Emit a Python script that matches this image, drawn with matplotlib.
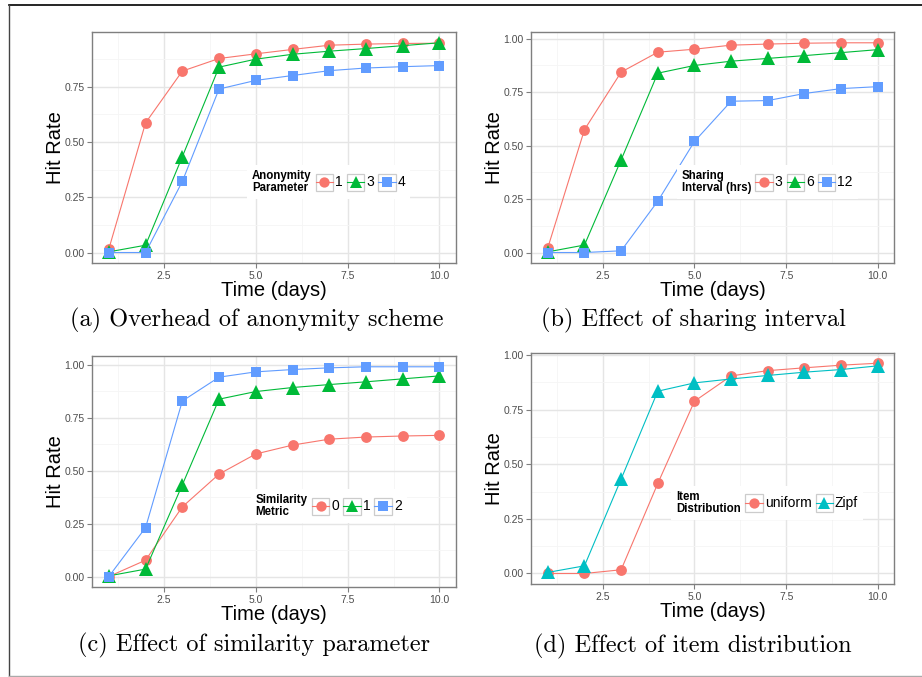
import matplotlib
matplotlib.use("Agg")
import matplotlib.pyplot as plt
import numpy as np
from matplotlib.offsetbox import AnchoredOffsetbox, HPacker, TextArea, DrawingArea
from matplotlib.patches import Rectangle
from matplotlib.lines import Line2D

# ---------------- data ----------------
days = [1, 2, 3, 4, 5, 6, 7, 8, 9, 10]

# (a) anonymity parameter
a_labels = ["1", "3", "4"]
a_1 = [0.016, 0.586, 0.820, 0.877, 0.898, 0.918, 0.937, 0.942, 0.945, 0.946]
a_3 = [0.003, 0.033, 0.433, 0.838, 0.874, 0.896, 0.910, 0.922, 0.935, 0.948]
a_4 = [0.000, 0.000, 0.321, 0.739, 0.778, 0.800, 0.822, 0.834, 0.840, 0.845]

# (b) sharing interval
b_labels = ["3", "6", "12"]
b_3 = [0.022, 0.574, 0.843, 0.936, 0.950, 0.969, 0.974, 0.978, 0.980, 0.980]
b_6 = [0.003, 0.035, 0.433, 0.838, 0.874, 0.894, 0.907, 0.920, 0.934, 0.948]
b_12 = [0.000, 0.000, 0.008, 0.240, 0.519, 0.707, 0.710, 0.743, 0.766, 0.775]

# (c) similarity metric
c_labels = ["0", "1", "2"]
c_0 = [0.000, 0.077, 0.329, 0.484, 0.579, 0.621, 0.649, 0.659, 0.664, 0.667]
c_1 = [0.003, 0.035, 0.433, 0.838, 0.874, 0.893, 0.907, 0.920, 0.934, 0.948]
c_2 = [0.000, 0.231, 0.829, 0.942, 0.967, 0.978, 0.986, 0.991, 0.991, 0.991]

# (d) item distribution
d_labels = ["uniform", "Zipf"]
d_uniform = [0.000, 0.000, 0.017, 0.412, 0.788, 0.904, 0.928, 0.941, 0.953, 0.962]
d_zipf = [0.005, 0.035, 0.432, 0.834, 0.872, 0.890, 0.906, 0.921, 0.933, 0.950]

x_ticks = [2.5, 5.0, 7.5, 10.0]
x_ticklabels = ["2.5", "5.0", "7.5", "10.0"]
y_ticks = [0.0, 0.25, 0.5, 0.75, 1.0]
y_ticklabels = ["0.00", "0.25", "0.50", "0.75", "1.00"]

captions = ["(a) Overhead of anonymity scheme", "(b) Effect of sharing interval",
            "(c) Effect of similarity parameter", "(d) Effect of item distribution"]
legend_titles = ["Anonymity\nParameter", "Sharing\nInterval (hrs)", "Similarity\nMetric",
                 "Item\nDistribution"]

# ---------------- style ----------------
RED, GREEN, BLUE, CYAN = "#F8766D", "#00BA38", "#619CFF", "#00BFC4"
SANS = ["Liberation Sans", "DejaVu Sans"]
SERIF = ["cmr10", "DejaVu Serif"]
plt.rcParams["axes.formatter.use_mathtext"] = True

fig = plt.figure(figsize=(9.22, 6.77), dpi=100)

W, H = 922.0, 677.0
def fig_rect(l, t, r, b):
    return [l / W, 1 - b / H, (r - l) / W, (b - t) / H]

axes_px = [(92.3, 32.3, 456.0, 263.0), (531.3, 32.3, 894.3, 263.0),
           (92.3, 356.3, 456.0, 587.0), (531.3, 352.7, 894.3, 584.0)]

panels = [
    ([a_1, a_3, a_4], a_labels, [RED, GREEN, BLUE], ["o", "^", "s"]),
    ([b_3, b_6, b_12], b_labels, [RED, GREEN, BLUE], ["o", "^", "s"]),
    ([c_0, c_1, c_2], c_labels, [RED, GREEN, BLUE], ["o", "^", "s"]),
    ([d_uniform, d_zipf], d_labels, [RED, CYAN], ["o", "^"]),
]
msize = {"o": 7.8, "^": 9.4, "s": 7.8}

def make_legend(ax, title, labels, colors, markers):
    items = [TextArea(title, textprops=dict(fontsize=8.3, fontweight="bold", family=SANS,
                                           linespacing=1.0, color="black"))]
    ks = 12.5
    for lab, col, mk in zip(labels, colors, markers):
        da = DrawingArea(ks, ks, 0, 0)
        da.add_artist(Rectangle((0, 0), ks, ks, facecolor="white", edgecolor="#CCCCCC", lw=0.9))
        da.add_artist(Line2D([0, ks], [ks / 2, ks / 2], color=col, lw=0.8))
        da.add_artist(Line2D([ks / 2], [ks / 2], marker=mk, ms=msize[mk] * 0.95,
                             color=col, markeredgewidth=0, linestyle="none"))
        ta = TextArea(lab, textprops=dict(fontsize=10, family=SANS, color="black"))
        items.append(HPacker(children=[da, ta], sep=1.5, align="center", pad=0))
    box = HPacker(children=items, sep=3, align="center", pad=0)
    anch = AnchoredOffsetbox(loc="center", child=box, bbox_to_anchor=(0.65, 0.35),
                             bbox_transform=ax.transAxes, frameon=True, pad=0.35,
                             borderpad=0)
    anch.patch.set_facecolor("white")
    anch.patch.set_edgecolor("none")
    anch.set_zorder(5)
    ax.add_artist(anch)

for i, (series, labels, colors, markers) in enumerate(panels):
    ax = fig.add_axes(fig_rect(*axes_px[i]))
    for ys, col, mk in zip(series, colors, markers):
        ax.plot(days, ys, color=col, lw=0.8, marker=mk, ms=msize[mk],
                markeredgewidth=0, zorder=3)
    # ggplot-like expansion
    allv = np.concatenate([np.asarray(s) for s in series])
    lo, hi = allv.min(), allv.max()
    pad = 0.05 * (hi - lo)
    ylo, yhi = lo - pad, hi + pad
    ax.set_ylim(ylo, yhi)
    ax.set_xlim(1 - 0.45, 10 + 0.45)
    ax.set_xticks(x_ticks)
    ax.set_xticklabels(x_ticklabels)
    keep = [(t, l) for t, l in zip(y_ticks, y_ticklabels) if ylo <= t <= yhi]
    ax.set_yticks([t for t, _ in keep])
    ax.set_yticklabels([l for _, l in keep])
    ax.set_xticks([1.25, 3.75, 6.25, 8.75], minor=True)
    ax.set_yticks([m for m in [0.125, 0.375, 0.625, 0.875] if ylo <= m <= yhi], minor=True)
    ax.grid(True, which="major", color="#E5E5E5", lw=1.0, zorder=0)
    ax.grid(True, which="minor", color="#F5F5F5", lw=0.6, zorder=0)
    ax.set_axisbelow(True)
    for sp in ax.spines.values():
        sp.set_color("#7F7F7F")
        sp.set_linewidth(1.0)
    ax.tick_params(which="major", length=3.5, width=0.8, color="#7F7F7F",
                   labelsize=7.5, labelcolor="#4D4D4D", pad=2)
    ax.tick_params(which="minor", length=0)
    for t in ax.get_xticklabels() + ax.get_yticklabels():
        t.set_family(SANS)
    ax.set_xlabel("Time (days)", fontsize=14.5, family=SANS, labelpad=0)
    ax.set_ylabel("Hit Rate", fontsize=14.5, family=SANS, labelpad=-0.5)
    make_legend(ax, legend_titles[i], labels, colors, markers)

# captions
cap_pos = [(257, 320), (693, 320), (254, 645), (693, 646.5)]
for txt, (cx, cy) in zip(captions, cap_pos):
    fig.text(cx / W, 1 - cy / H, txt, ha="center", va="center", fontsize=17.5,
             family=SERIF)

# outer frame lines
fig.add_artist(Line2D([9 / W, 1], [1 - 4.5 / H, 1 - 4.5 / H], color="black", lw=1.2))
fig.add_artist(Line2D([9 / W, 9 / W], [1 - 4.5 / H, 1 - 676 / H], color="#444444", lw=1.0))
fig.add_artist(Line2D([9 / W, 1], [1 - 676 / H, 1 - 676 / H], color="#AAAAAA", lw=1.0))

fig.savefig("out.png", dpi=100, facecolor="white")
